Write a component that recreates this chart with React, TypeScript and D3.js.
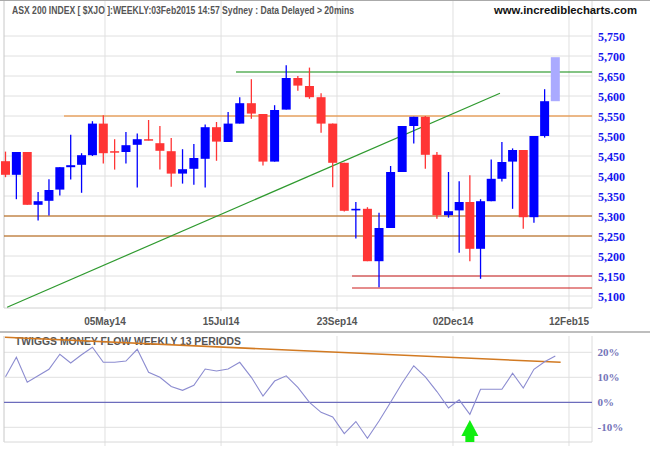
import React from "react";
import * as d3 from "d3";

// ---- Data (weekly candles, ASX 200) ----
const opens = [5437,5403,5460,5328,5338,5366,5422,5428,5452,5531,5462,5460,5478,5492,5482,5462,5406,5418,5443,5522,5485,5531,5582,5555,5436,5566,5645,5625,5597,5531,5433,5314,5318,5187,5270,5410,5525,5548,5453,5302,5314,5335,5218,5337,5393,5436,5465,5297,5500];
const highs = [5461,5460,5460,5360,5392,5422,5503,5457,5537,5552,5492,5510,5506,5540,5525,5495,5467,5480,5529,5535,5560,5597,5642,5555,5577,5677,5650,5671,5607,5531,5433,5335,5322,5308,5425,5525,5548,5550,5460,5410,5387,5402,5342,5441,5485,5469,5465,5500,5617];
const lows = [5397,5342,5328,5289,5301,5351,5391,5358,5450,5431,5416,5431,5371,5489,5416,5373,5381,5378,5371,5438,5485,5531,5543,5426,5436,5566,5613,5593,5508,5372,5311,5244,5187,5122,5270,5410,5481,5418,5293,5296,5208,5187,5143,5337,5386,5318,5268,5283,5496];
const closes = [5403,5460,5328,5337,5365,5422,5427,5452,5531,5457,5460,5477,5492,5490,5463,5406,5417,5445,5522,5486,5531,5582,5556,5436,5565,5645,5626,5597,5531,5433,5313,5318,5187,5270,5410,5525,5548,5453,5302,5312,5335,5218,5337,5393,5435,5465,5297,5500,5587];
const projection = { open: 5587, close: 5697 };

const moneyFlow = [10.2,18,8,10.6,13.2,19.2,15.7,19,22,16,16,16.5,21.2,12,10,6.3,4.8,6.8,13.3,12.5,13.3,16,10,2.5,8.5,10.6,6,0,-4,-5.9,-12.5,-7.7,-14.4,-7.5,0,7.7,14.6,10.2,4.3,-2.3,1,-4.8,5.2,5.2,5.2,11.6,5.7,13.2,16.2,18.5];

const dateLabels = ["05May14", "15Jul14", "23Sep14", "02Dec14", "12Feb15"];
const dateTickWeeks = [9.15, 19.39, 29.37, 39.42, 50.28];
const priceTicks = d3.range(5100, 5751, 50);
const mfTicks = [20, 10, 0, -10];

// support/resistance lines: value, starting week (null = from left edge)
const levelLines = [
  { v: 5660, from: 20.68, color: "#0a8a0a", w: 1.2 },
  { v: 5550, from: 5.38, color: "#e8801e", w: 1.2 },
  { v: 5300, from: null, color: "#b35a00", w: 1.2 },
  { v: 5250, from: null, color: "#b35a00", w: 1.2 },
  { v: 5150, from: 30.67, color: "#cc1a1a", w: 1 },
  { v: 5120, from: 30.67, color: "#cc1a1a", w: 1 },
];
const trendWeeks = [0.15, 43.82];
const trendValues = [5072, 5607];
const mfTrendWeeks = [-0.05, 49.5];
const mfTrendValues = [26, 16];
const signalWeek = 41;

export default function App() {
  const W = 650, H = 450;
  const left = 4, right = 592;
  const mainTop = 0, mainBottom = 308;
  const lowTop = 336, lowBottom = 442;

  const x = d3.scaleLinear().domain([0, 9, 19, 29, 39, 49]).range([5.5, 103.3, 216.5, 332.7, 448.5, 555.3]);
  const y = d3.scaleLinear().domain([5100, 5750]).range([296, 36]);
  const ym = d3.scaleLinear().domain([-10, 20]).range([427.3, 352.3]);

  const bw = 9;
  const mfLine = d3.line<number>().x((_, i) => x(i)).y((d) => ym(d));
  const trendLine = d3.line<number>().x((d) => x(d)).y((_, i) => y(trendValues[i]));
  const mfTrend = d3.line<number>().x((d) => x(d)).y((_, i) => ym(mfTrendValues[i]));

  const ax = x(signalWeek);

  return (
    <svg width={W} height={H} style={{ position: "absolute", left: 0, top: 0, background: "#fff" }}>
      <rect x={0} y={0} width={W} height={H} fill="#fff" />
      {/* main panel grid */}
      {priceTicks.map((t) => (
        <line key={"g" + t} x1={left} x2={right} y1={y(t)} y2={y(t)} stroke="#e0e0e0" strokeWidth={1} />
      ))}
      {dateTickWeeks.map((w, i) => (
        <line key={"v" + i} x1={x(w)} x2={x(w)} y1={mainTop} y2={mainBottom + 3} stroke="#e0e0e0" strokeWidth={1} />
      ))}
      {/* frame */}
      <line x1={left} x2={left} y1={0} y2={mainBottom} stroke="#c8c8c8" />
      <line x1={right} x2={right} y1={0} y2={mainBottom} stroke="#dcdcdc" />
      <line x1={left} x2={right} y1={mainBottom} y2={mainBottom} stroke="#d0d0d0" />
      <line x1={0} x2={W} y1={0.5} y2={0.5} stroke="#aaaaaa" />

      {/* level lines */}
      {levelLines.map((l, i) => (
        <line key={"l" + i} x1={l.from === null ? left : x(l.from)} x2={right} y1={y(l.v)} y2={y(l.v)} stroke={l.color} strokeWidth={l.w} />
      ))}
      <path d={trendLine(trendWeeks) || ""} stroke="#2f9a2f" strokeWidth={1.2} fill="none" />

      {/* candles */}
      {opens.map((o, i) => {
        const c = closes[i];
        const up = c >= o;
        const col = up ? "#0000ff" : "#ff3535";
        const top = y(Math.max(o, c));
        const bot = y(Math.min(o, c));
        const cx = x(i);
        return (
          <g key={"c" + i}>
            <line x1={cx} x2={cx} y1={y(highs[i])} y2={y(lows[i])} stroke={col} strokeWidth={1.3} />
            <rect x={cx - bw / 2} y={top} width={bw} height={Math.max(1.5, bot - top)} fill={col} />
          </g>
        );
      })}
      <rect x={x(49) - bw / 2} y={y(projection.close)} width={bw} height={y(projection.open) - y(projection.close)} fill="#aaaaff" />

      {/* right axis labels */}
      {priceTicks.map((t) => (
        <text key={"t" + t} x={598} y={y(t) + 4.5} fontFamily="'Liberation Serif', serif" fontWeight="bold" fontSize={12} fill="#1414ee">
          {d3.format(",")(t)}
        </text>
      ))}
      {/* date labels */}
      {dateLabels.map((d, i) => (
        <text key={"d" + i} x={x(dateTickWeeks[i])} y={325} textAnchor="middle" fontFamily="'Liberation Sans', Arial, sans-serif" fontWeight="bold" fontSize={10} fill="#555">
          {d}
        </text>
      ))}

      {/* title */}
      <text x={12} y={14} fontFamily="'Liberation Sans', Arial, sans-serif" fontWeight="bold" fontSize={10.5} fill="#555" textLength={342} lengthAdjust="spacingAndGlyphs">
        ASX 200 INDEX [ $XJO ]:WEEKLY:03Feb2015 14:57 Sydney : Data Delayed &gt; 20mins
      </text>
      <text x={637} y={14} textAnchor="end" fontFamily="'Liberation Sans', Arial, sans-serif" fontWeight="bold" fontSize={11} fill="#111" textLength={143} lengthAdjust="spacingAndGlyphs">
        www.incrediblecharts.com
      </text>

      {/* separator */}
      <line x1={0} x2={W} y1={332} y2={332} stroke="#a8a8a8" strokeWidth={1.5} />

      {/* lower panel */}
      {mfTicks.filter((t) => t !== 0).map((t) => (
        <line key={"mg" + t} x1={left} x2={right} y1={ym(t)} y2={ym(t)} stroke="#e0e0e0" />
      ))}
      {dateTickWeeks.map((w, i) => (
        <line key={"mv" + i} x1={x(w)} x2={x(w)} y1={lowTop} y2={lowBottom + 4} stroke="#e0e0e0" />
      ))}
      <line x1={left} x2={left} y1={lowTop} y2={lowBottom} stroke="#c8c8c8" />
      <line x1={right} x2={right} y1={lowTop} y2={lowBottom} stroke="#dcdcdc" />
      <line x1={left} x2={right} y1={lowBottom} y2={lowBottom} stroke="#d8d8d8" />
      <line x1={left} x2={right} y1={ym(0)} y2={ym(0)} stroke="#6c6cbc" strokeWidth={1.2} />

      <text x={15} y={345} fontFamily="'Liberation Sans', Arial, sans-serif" fontWeight="bold" fontSize={11} fill="#555" textLength={226} lengthAdjust="spacingAndGlyphs">
        TWIGGS MONEY FLOW WEEKLY 13 PERIODS
      </text>
      <path d={mfTrend(mfTrendWeeks) || ""} stroke="#d27a22" strokeWidth={1.6} fill="none" />
      <path d={mfLine(moneyFlow) || ""} stroke="#8c8cd0" strokeWidth={1.1} fill="none" />

      {mfTicks.map((t) => (
        <text key={"mt" + t} x={597.5} y={ym(t) + 4} fontFamily="'Liberation Serif', serif" fontWeight="bold" fontSize={11} fill="#7474b8">
          {t + "%"}
        </text>
      ))}

      {/* buy signal arrow */}
      <polygon points={`${ax},${420} ${ax - 8.5},${436} ${ax + 8.5},${436}`} fill="#11ee11" />
      <rect x={ax - 4.5} y={435.5} width={9} height={6.5} fill="#11ee11" />
    </svg>
  );
}
